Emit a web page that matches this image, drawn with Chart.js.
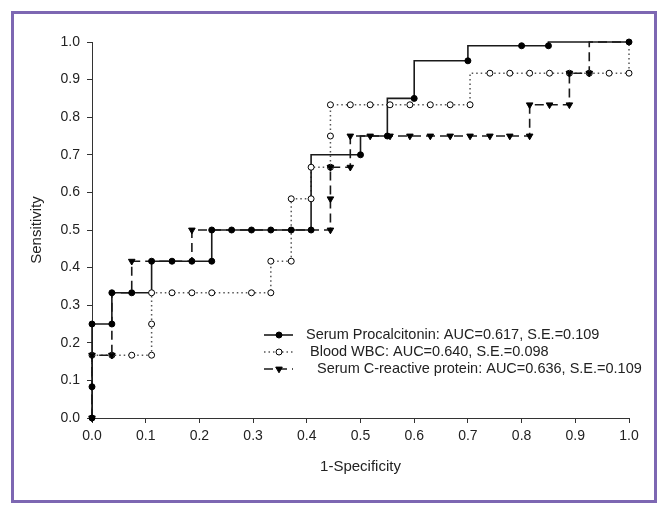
<!DOCTYPE html>
<html>
<head>
<meta charset="utf-8">
<script src="https://cdn.jsdelivr.net/npm/chart.js@4.4.0/dist/chart.umd.min.js"></script>
<style>
html, body { margin: 0; padding: 0; background: #fff; }
#wrap { position: relative; width: 663px; height: 505px; }
#frame { position: absolute; left: 11px; top: 11px; width: 640px; height: 486px; border: 3px solid #7d67b2; pointer-events: none; }
</style>
</head>
<body>
<div id="wrap">
  <canvas id="roc" width="663" height="505"></canvas>
  <div id="frame"></div>
</div>
<script>
// ROC curves: [1-specificity, sensitivity]
const seriesNames = [
    'Serum Procalcitonin: AUC=0.617, S.E.=0.109',
    'Blood WBC: AUC=0.640, S.E.=0.098',
    'Serum C-reactive protein: AUC=0.636, S.E.=0.109'
];
const xTicks = [0, 0.1, 0.2, 0.3, 0.4, 0.5, 0.6, 0.7, 0.8, 0.9, 1.0];
const yTicks = [0, 0.1, 0.2, 0.3, 0.4, 0.5, 0.6, 0.7, 0.8, 0.9, 1.0];

// Serum procalcitonin
const pctPath = [[0,0],[0,0.25],[0.037,0.25],[0.037,0.333],[0.111,0.333],[0.111,0.417],[0.223,0.417],[0.223,0.5],
    [0.408,0.5],[0.408,0.70],[0.5,0.70],[0.5,0.75],[0.55,0.75],[0.55,0.85],[0.60,0.85],[0.60,0.95],[0.70,0.95],
    [0.70,0.99],[0.85,0.99],[0.85,1.0],[1.0,1.0]];
const pctMarks = [[0,0],[0,0.083],[0,0.25],[0.037,0.25],[0.037,0.333],[0.074,0.333],[0.111,0.417],[0.149,0.417],
    [0.186,0.417],[0.223,0.417],[0.223,0.5],[0.26,0.5],[0.297,0.5],[0.333,0.5],[0.371,0.5],[0.408,0.5],
    [0.5,0.70],[0.55,0.75],[0.60,0.85],[0.70,0.95],[0.80,0.99],[0.85,0.99],[1.0,1.0]];

// Blood WBC
const wbcPath = [[0,0],[0,0.167],[0.111,0.167],[0.111,0.333],[0.333,0.333],[0.333,0.417],[0.371,0.417],[0.371,0.583],
    [0.408,0.583],[0.408,0.667],[0.444,0.667],[0.444,0.833],[0.704,0.833],[0.704,0.917],[1.0,0.917],[1.0,1.0]];
const wbcMarks = [[0,0.167],[0.037,0.167],[0.074,0.167],[0.111,0.167],[0.111,0.25],[0.111,0.333],[0.149,0.333],
    [0.186,0.333],[0.223,0.333],[0.297,0.333],[0.333,0.333],[0.333,0.417],[0.371,0.417],[0.371,0.583],[0.408,0.583],
    [0.408,0.667],[0.444,0.667],[0.444,0.75],[0.444,0.833],[0.481,0.833],[0.518,0.833],[0.555,0.833],[0.592,0.833],
    [0.63,0.833],[0.667,0.833],[0.704,0.833],[0.741,0.917],[0.778,0.917],[0.815,0.917],[0.852,0.917],[0.889,0.917],
    [0.926,0.917],[0.963,0.917],[1.0,0.917]];

// Serum C-reactive protein
const crpPath = [[0,0],[0,0.167],[0.037,0.167],[0.037,0.333],[0.074,0.333],[0.074,0.417],[0.186,0.417],[0.186,0.5],
    [0.444,0.5],[0.444,0.667],[0.481,0.667],[0.481,0.75],[0.815,0.75],[0.815,0.833],[0.889,0.833],[0.889,0.917],
    [0.926,0.917],[0.926,1.0],[1.0,1.0]];
const crpMarks = [[0,0],[0,0.167],[0.037,0.167],[0.074,0.417],[0.186,0.5],[0.444,0.5],[0.444,0.583],[0.444,0.667],
    [0.481,0.667],[0.481,0.75],[0.518,0.75],[0.555,0.75],[0.592,0.75],[0.63,0.75],[0.667,0.75],[0.704,0.75],
    [0.741,0.75],[0.778,0.75],[0.815,0.75],[0.815,0.833],[0.852,0.833],[0.889,0.833],[0.889,0.917],[0.926,0.917]];

const toXY = arr => arr.map(p => ({ x: p[0], y: p[1] }));
const FONT = '"Liberation Sans", Arial, sans-serif';

// styles per series (line + marker)
const styles = [
    { color: '#1a1a1a', dash: [], width: 1.6, point: 'circle', radius: 3, fill: '#000', rot: 0 },
    { color: '#555', dash: [1.5, 3], width: 1.5, point: 'circle', radius: 3, fill: '#fff', rot: 0 },
    { color: '#1a1a1a', dash: [9, 5], width: 1.6, point: 'triangle', radius: 3.8, fill: '#000', rot: 180 }
];

function lineSet(data, s, order) {
    return { data: toXY(data), showLine: true, borderColor: s.color, borderWidth: s.width, borderDash: s.dash,
        pointRadius: 0, fill: false, tension: 0, clip: false, order: order };
}
function markSet(data, s, order) {
    return { data: toXY(data), showLine: false, pointStyle: s.point, pointRotation: s.rot, pointRadius: s.radius,
        pointBackgroundColor: s.fill, pointBorderColor: '#000', pointBorderWidth: 1, clip: false, order: order };
}

// legend drawn inside the plot like the original
const rocLegend = {
    id: 'rocLegend',
    afterDraw(chart) {
        const ctx = chart.ctx;
        const textX = [306, 310, 317];
        ctx.save();
        seriesNames.forEach((name, i) => {
            const s = styles[i];
            const y = 335 + i * 17;
            ctx.strokeStyle = s.color;
            ctx.lineWidth = s.width;
            ctx.setLineDash(s.dash);
            ctx.beginPath();
            ctx.moveTo(264, y);
            ctx.lineTo(293, y);
            ctx.stroke();
            ctx.setLineDash([]);
            ctx.fillStyle = s.fill;
            ctx.strokeStyle = '#000';
            ctx.lineWidth = 1;
            Chart.helpers.drawPoint(ctx, { pointStyle: s.point, rotation: s.rot, radius: s.radius, borderWidth: 1 }, 279, y);
            ctx.fillStyle = '#222';
            ctx.font = '14.5px ' + FONT;
            ctx.textBaseline = 'middle';
            ctx.textAlign = 'left';
            ctx.fillText(name, textX[i], y);
        });
        ctx.restore();
    }
};

new Chart(document.getElementById('roc'), {
    type: 'scatter',
    data: {
        datasets: [
            markSet(pctMarks, styles[0], 0),
            markSet(crpMarks, styles[2], 1),
            markSet(wbcMarks, styles[1], 2),
            lineSet(pctPath, styles[0], 3),
            lineSet(crpPath, styles[2], 4),
            lineSet(wbcPath, styles[1], 5)
        ]
    },
    options: {
        responsive: false,
        animation: false,
        events: [],
        layout: { padding: { top: 42, right: 34, left: 0, bottom: 0 } },
        plugins: { legend: { display: false }, tooltip: { enabled: false } },
        scales: {
            x: {
                type: 'linear', min: 0, max: 1,
                afterFit: s => { s.height = 87; },
                afterBuildTicks: s => { s.ticks = xTicks.map(v => ({ value: v })); },
                ticks: { callback: v => v.toFixed(1), font: { size: 14, family: FONT }, color: '#222', padding: 5, maxRotation: 0 },
                grid: { drawOnChartArea: false, drawTicks: true, tickLength: 5, color: '#333' },
                border: { display: true, color: '#333', width: 1 },
                title: { display: true, text: '1-Specificity', font: { size: 15, family: FONT }, color: '#222', padding: { top: 0, bottom: 29 } }
            },
            y: {
                type: 'linear', min: 0, max: 1,
                afterFit: s => { s.width = 92; },
                afterBuildTicks: s => { s.ticks = yTicks.map(v => ({ value: v })); },
                ticks: { callback: v => v.toFixed(1), font: { size: 14, family: FONT }, color: '#222', padding: 7 },
                grid: { drawOnChartArea: false, drawTicks: true, tickLength: 5, color: '#333' },
                border: { display: true, color: '#333', width: 1 },
                title: { display: true, text: 'Sensitivity', font: { size: 15, family: FONT }, color: '#222', padding: { top: 28, bottom: 0 } }
            }
        }
    },
    plugins: [rocLegend]
});
</script>
</body>
</html>
